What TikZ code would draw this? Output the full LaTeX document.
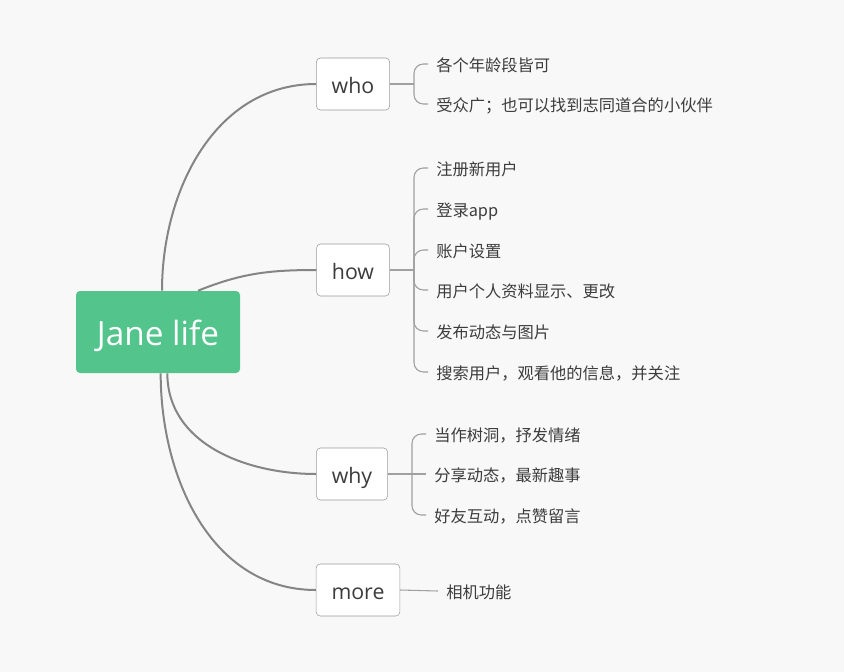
\documentclass[tikz,border=0pt]{standalone}
\usepackage{fontspec}
\setmainfont{Open Sans}
\newfontfamily\cjk{Noto Sans CJK SC}
\usetikzlibrary{positioning}
\definecolor{mapgreen}{HTML}{52C48C}
\definecolor{pagegray}{HTML}{F8F8F8}
\definecolor{boxgray}{HTML}{9A9A9A}
\definecolor{linegray}{HTML}{858585}
\definecolor{twiggray}{HTML}{A0A0A0}
\definecolor{textgray}{HTML}{3C3C3C}

\begin{document}
\begin{tikzpicture}[x=0.75pt,y=-0.75pt,
      root/.style={
        fill=mapgreen,
        rounded corners=3pt,
        minimum width=123pt,
        minimum height=61.5pt,
        text height=20pt,
        text depth=0pt,
        text=white,
        font=\fontsize{25}{30}\selectfont
      },
      topic/.style={
        draw=boxgray,
        fill=white,
        rounded corners=3pt,
        minimum height=39pt,
        inner xsep=11.5pt,
        text height=14.6pt,
        text depth=0pt,
        text=textgray,
        font=\fontsize{16}{19}\selectfont
      },
      leaf/.style={
        anchor=west,
        inner xsep=6pt,
        text height=11.2pt,
        text depth=0pt,
        text=textgray,
        font=\cjk\fontsize{12.2}{15}\selectfont
      },
      branch/.style={draw=linegray,line width=1.5pt},
      twig/.style={draw=twiggray,line width=0.8pt,rounded corners=7pt}
      ]
      \fill[pagegray] (0,0) rectangle (844,672);
      \useasboundingbox (0,0) rectangle (844,672);

      \node[root] (root) at (158,332) {Jane life};

      \node[topic] (who) at (353,84) {who};
      \node[topic] (how) at (353,270) {how};
      \node[topic] (why) at (352,474) {why};
      \node[topic] (more) at (358,590) {more};

      % first level branches
      \draw[branch] ([xshift=3pt]root.north) to[out=90,in=180] (who.west);
      \draw[branch] ([xshift=30pt]root.north) to[out=22,in=180] (how.west);
      \draw[branch] ([xshift=7pt]root.south) to[out=-90,in=180] (why.west);
      \draw[branch] ([xshift=2pt]root.south) to[out=-90,in=180] (more.west);

      % who
      \coordinate (wj) at (414,84);
      \node[leaf] (w1) at (428,64) {各个年龄段皆可};
      \node[leaf] (w2) at (428,104) {受众广；也可以找到志同道合的小伙伴};
      \draw[twig] (who.east) -- (wj);
      \draw[twig] (wj) |- (w1.west);
      \draw[twig] (wj) |- (w2.west);

      % how
      \coordinate (hj) at (414,270);
      \node[leaf] (h1) at (428,168) {注册新用户};
      \node[leaf] (h2) at (428,209) {登录app};
      \node[leaf] (h3) at (428,250) {账户设置};
      \node[leaf] (h4) at (428,290) {用户个人资料显示、更改};
      \node[leaf] (h5) at (428,331) {发布动态与图片};
      \node[leaf] (h6) at (428,372) {搜索用户，观看他的信息，并关注};
      \draw[twig] (how.east) -- (hj);
      \draw[twig] (hj) |- (h1.west);
      \draw[twig] (hj) |- (h2.west);
      \draw[twig] (hj) |- (h3.west);
      \draw[twig] (hj) |- (h4.west);
      \draw[twig] (hj) |- (h5.west);
      \draw[twig] (hj) |- (h6.west);

      % why
      \coordinate (yj) at (412,474);
      \node[leaf] (y1) at (426,434) {当作树洞，抒发情绪};
      \node[leaf] (y2) at (426,474) {分享动态，最新趣事};
      \node[leaf] (y3) at (426,515) {好友互动，点赞留言};
      \draw[twig] (why.east) -- (yj);
      \draw[twig] (yj) |- (y1.west);
      \draw[twig] (yj) -- (y2.west);
      \draw[twig] (yj) |- (y3.west);

      % more
      \node[leaf] (m1) at (438,591) {相机功能};
      \draw[twig] (more.east) -- (m1.west);
    \end{tikzpicture}
\end{document}
